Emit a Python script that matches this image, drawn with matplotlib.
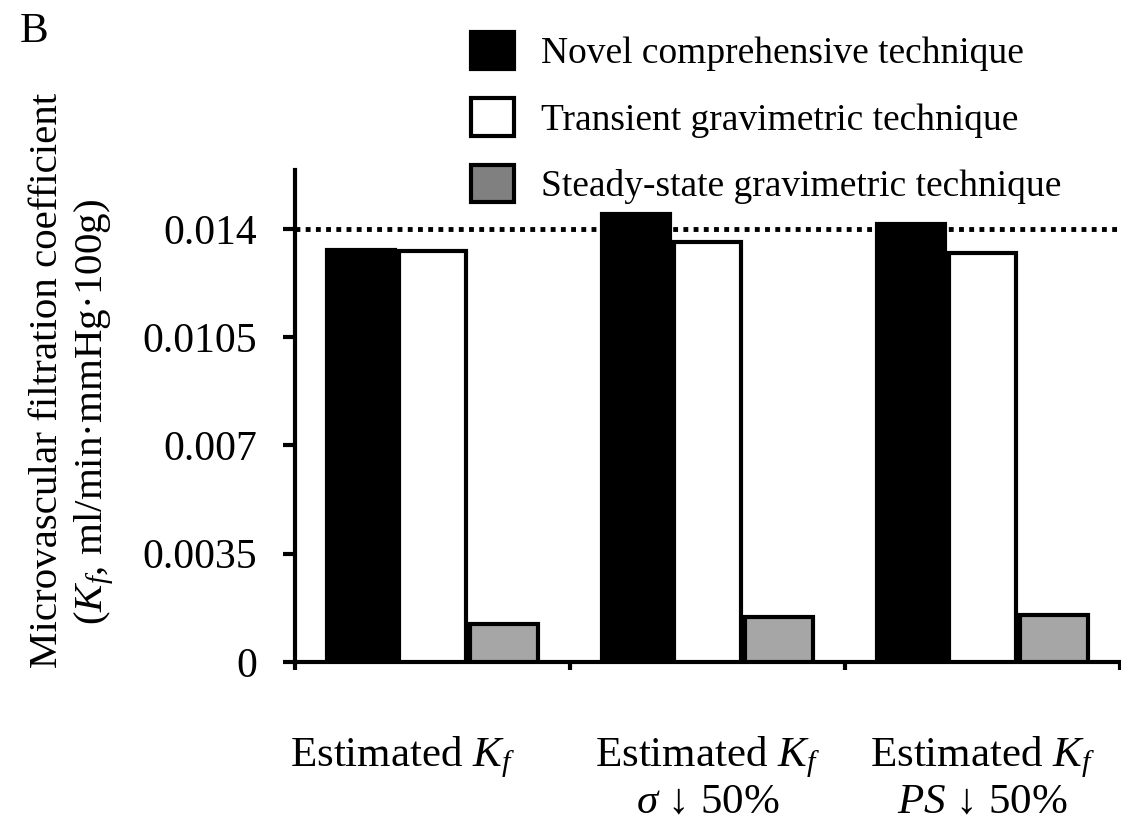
import numpy as np
import matplotlib
matplotlib.use("Agg")
import matplotlib.pyplot as plt
from matplotlib.patches import Patch
from matplotlib.transforms import ScaledTranslation

plt.rcParams['font.family'] = ['Liberation Serif', 'DejaVu Serif']
plt.rcParams['mathtext.fontset'] = 'custom'
plt.rcParams['mathtext.rm'] = 'Liberation Serif'
plt.rcParams['mathtext.it'] = 'Liberation Serif:italic'
plt.rcParams['mathtext.bf'] = 'Liberation Serif:bold'

# data
categories = ["Estimated $K_f$",
              "Estimated $K_f$\n$\\sigma$ \u2193 50%",
              "Estimated $K_f$\n$PS$ \u2193 50%"]
series = ["Novel comprehensive technique",
          "Transient gravimetric technique",
          "Steady-state gravimetric technique"]
novel = [0.01330, 0.01449, 0.01414]
transient = [0.01329, 0.01358, 0.01323]
steady = [0.00123, 0.00146, 0.00152]
reference_kf = 0.014
yticks = [0, 0.0035, 0.007, 0.0105, 0.014]
ytick_labels = ["0", "0.0035", "0.007", "0.0105", "0.014"]

bar_colors = ["black", "white", "#a6a6a6"]
legend_colors = ["black", "white", "#808080"]

fig = plt.figure(figsize=(11.21, 8.34), dpi=100)
ax = fig.add_axes([295 / 1121, 1 - 662 / 834, 825 / 1121, 492 / 834])

x = np.arange(len(categories))
w = 0.245
offs = [-0.26, 0.0, 0.26]
for vals, c, o in zip([novel, transient, steady], bar_colors, offs):
    ax.bar(x + o, vals, w, color=c, edgecolor="black", linewidth=3, zorder=3)

ax.axhline(reference_kf, color="black", lw=3.5, linestyle=(0, (1.0, 1.1)), zorder=2)

ax.set_xlim(-0.5, 2.5)
ax.set_ylim(0, 0.0159)
for s in ["top", "right"]:
    ax.spines[s].set_visible(False)
for s in ["left", "bottom"]:
    ax.spines[s].set_linewidth(3)

ax.set_yticks(yticks)
ax.set_yticklabels(ytick_labels, fontsize=30)
ax.tick_params(axis="y", direction="out", length=8.6, width=3, pad=18.5)

ax.set_xticks([-0.5, 0.5, 1.5, 2.5])
ax.set_xticklabels([])
ax.tick_params(axis="x", which="major", direction="out", length=6, width=3)
ax.set_xticks(x, minor=True)
ax.set_xticklabels(categories, minor=True, fontsize=31, linespacing=1.12)
ax.tick_params(axis="x", which="minor", length=0, pad=52)
# first label sits left of its group centre in the original
for lbl, dx in zip(ax.get_xticklabels(minor=True), [-30, 0, 0]):
    lbl.set_transform(lbl.get_transform() + ScaledTranslation(dx / 100, 0, fig.dpi_scale_trans))

ylab_font = 29.5
fig.text(48 / 1121, 1 - 380 / 834, "Microvascular filtration coefficient",
         rotation=90, ha="center", va="center", fontsize=ylab_font)
fig.text(94 / 1121, 1 - 412 / 834, "($K_f$, ml/min\u00b7mmHg\u00b7100g)",
         rotation=90, ha="center", va="center", fontsize=ylab_font)

fig.text(20 / 1121, 1 - 42 / 834, "B", fontsize=31, va="baseline")

handles = [Patch(facecolor=c, edgecolor="black", linewidth=3) for c in legend_colors]
fig.legend(handles, series, loc="upper left",
           bbox_to_anchor=(471 / 1121, 1 - 32 / 834), bbox_transform=fig.transFigure,
           frameon=False, fontsize=27, borderpad=0, borderaxespad=0,
           handlelength=1.15, handleheight=1.15, handletextpad=0.72, labelspacing=0.72)

fig.savefig("out.png", dpi=100)
